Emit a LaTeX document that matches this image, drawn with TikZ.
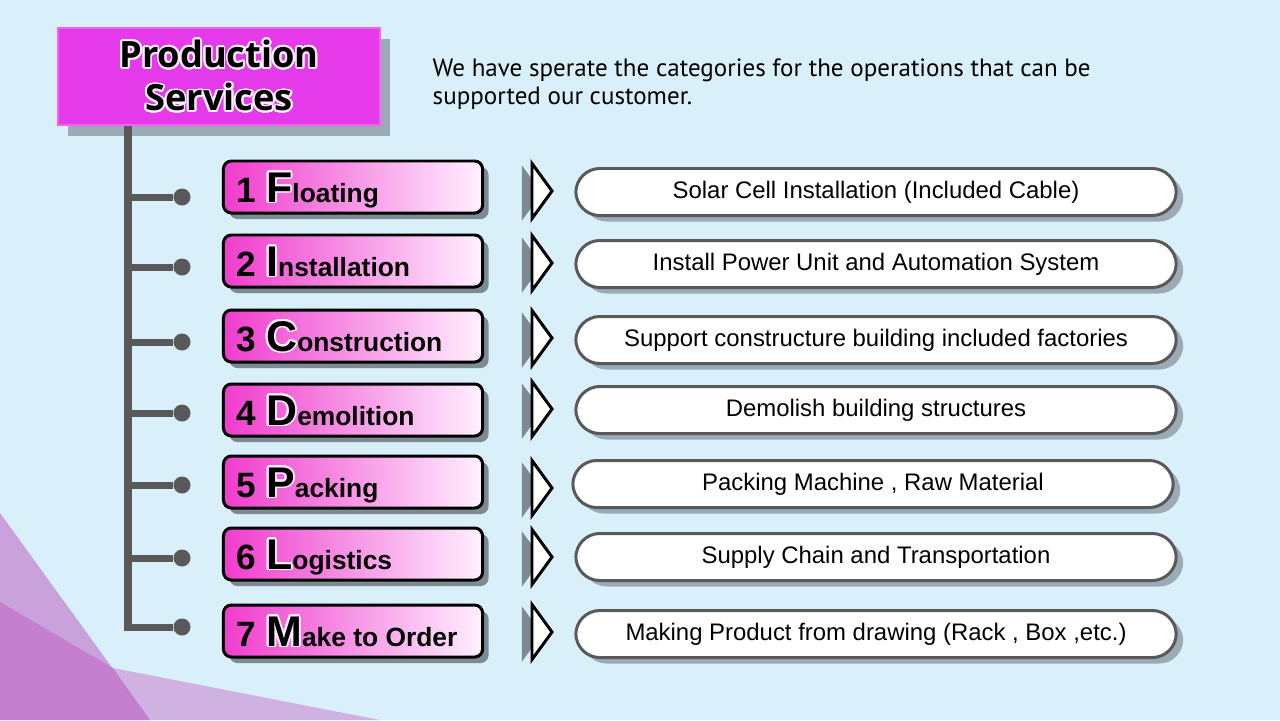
\documentclass[tikz,border=0pt]{standalone}
\usepackage{fontspec}
\setmainfont{Liberation Sans}
\newfontfamily\headfont{Open Sans}
\newfontfamily\notefont{PT Sans}
\usepackage{contour}
\contournumber{32}
\contourlength{0.5pt}
\usetikzlibrary{shapes.geometric,shadows}
\definecolor{figbg}{RGB}{217,240,250}
\definecolor{figmagenta}{RGB}{228,58,234}
\definecolor{figmagentaedge}{RGB}{244,96,246}
\definecolor{figpinkL}{RGB}{240,60,205}
\definecolor{figpinkR}{RGB}{255,240,255}
\definecolor{figline}{RGB}{89,89,89}
\definecolor{figshadow}{RGB}{125,138,146}
\definecolor{figshadowlt}{RGB}{155,170,180}
\definecolor{figviolet}{RGB}{196,127,206}
\definecolor{figlilac}{RGB}{201,162,220}
\definecolor{figlavender}{RGB}{207,178,226}
\definecolor{figglow}{RGB}{255,236,255}
\newcommand{\catlabel}[3]{\bfseries{\fontsize{10}{12}\selectfont #1\ }{\fontsize{12.2}{14}\selectfont\contour{figglow}{#2}}{\fontsize{7.5}{9}\selectfont #3}}

\begin{document}
\begin{tikzpicture}[x=0.01cm,y=-0.01cm,
  titlebox/.style={draw=figmagentaedge,line width=0.6pt,fill=figmagenta,
                   minimum width=3.22cm,minimum height=0.97cm,align=center,
                   font=\headfont\bfseries\fontsize{10.3}{12.3}\selectfont,
                   drop shadow={shadow xshift=0.1cm,shadow yshift=-0.11cm,fill=figshadowlt,opacity=1}},
  catbox/.style={draw=black,line width=0.85pt,rounded corners=0.08cm,
                 left color=figpinkL,right color=figpinkR,
                 minimum width=2.59cm,minimum height=0.52cm,inner sep=0pt,
                 text width=2.32cm,align=flush left,text height=0.34cm,text depth=0.04cm,
                 drop shadow={shadow xshift=0.06cm,shadow yshift=-0.06cm,fill=figshadow,opacity=1}},
  descbox/.style={draw=figline,line width=0.85pt,fill=white,rounded corners=0.24cm,
                  minimum width=6.0cm,minimum height=0.47cm,inner sep=0pt,
                  font=\fontsize{6.8}{8}\selectfont,
                  drop shadow={shadow xshift=0.07cm,shadow yshift=-0.06cm,fill=figshadowlt,opacity=1}},
  pointer/.style={isosceles triangle,isosceles triangle stretches,draw=black,fill=white,
                  line width=0.85pt,minimum width=0.55cm,minimum height=0.2cm,
                  inner sep=0pt,outer sep=0pt,anchor=apex,
                  drop shadow={shadow xshift=-0.1cm,shadow yshift=-0.02cm,fill=figshadow,opacity=1}},
  dot/.style={circle,fill=figline,minimum size=0.17cm,inner sep=0pt},
  trunk/.style={draw=figline,line width=2pt}
]
\useasboundingbox (0,0) rectangle (1280,720);
\fill[figbg] (0,0) rectangle (1280,720);

% corner decoration
\fill[figlilac] (0,513) -- (150,720) -- (0,720) -- cycle;
\fill[figlavender] (113,668) -- (380,720) -- (150,720) -- cycle;
\fill[figviolet] (0,602) -- (113,668) -- (150,720) -- (0,720) -- cycle;

\node[titlebox] (title) at (219,76.5) {\contour{figglow}{Production}\\\contour{figglow}{Services}};
\node[anchor=north west,align=left,inner sep=0pt,font=\notefont\fontsize{7.12}{8}\selectfont]
  (note) at (432,58) {We have sperate the categories for the operations that can be\\supported our customer.};

\coordinate (top) at (128,126);
\node[dot] (d1) at (182,197) {};
\node[dot] (d2) at (182,267) {};
\node[dot] (d3) at (182,342) {};
\node[dot] (d4) at (182,413) {};
\node[dot] (d5) at (182,485) {};
\node[dot] (d6) at (182,558) {};
\node[dot] (d7) at (182,627) {};

\draw[trunk] (top) -- (top |- d7) -- (d7);
\draw[trunk] (top |- d1) -- (d1);
\draw[trunk] (top |- d2) -- (d2);
\draw[trunk] (top |- d3) -- (d3);
\draw[trunk] (top |- d4) -- (d4);
\draw[trunk] (top |- d5) -- (d5);
\draw[trunk] (top |- d6) -- (d6);

\node[catbox] (floating) at (353,187) {\catlabel{1}{F}{loating}};
\node[catbox] (install) at (353,261) {\catlabel{2}{I}{nstallation}};
\node[catbox] (construct) at (353,336) {\catlabel{3}{C}{onstruction}};
\node[catbox] (demolish) at (353,410) {\catlabel{4}{D}{emolition}};
\node[catbox] (packing) at (353,482) {\catlabel{5}{P}{acking}};
\node[catbox] (logistics) at (353,554) {\catlabel{6}{L}{ogistics}};
\node[catbox] (order) at (353,631) {\catlabel{7}{M}{ake to Order}};

\node[pointer] (p1) at (552,191) {};
\node[pointer] (p2) at (552,263) {};
\node[pointer] (p3) at (552,338) {};
\node[pointer] (p4) at (552,409) {};
\node[pointer] (p5) at (552,488) {};
\node[pointer] (p6) at (552,557) {};
\node[pointer] (p7) at (552,632) {};

\node[descbox] (solar) at (876,192) {Solar Cell Installation (Included Cable)};
\node[descbox] (power) at (876,264) {Install Power Unit and Automation System};
\node[descbox] (building) at (876,340) {Support constructure building included factories};
\node[descbox] (structure) at (876,410) {Demolish building structures};
\node[descbox] (machine) at (873,484) {Packing Machine , Raw Material};
\node[descbox] (supply) at (876,557) {Supply Chain and Transportation};
\node[descbox] (product) at (876,634) {Making Product from drawing (Rack , Box ,etc.)};
\end{tikzpicture}
\end{document}
